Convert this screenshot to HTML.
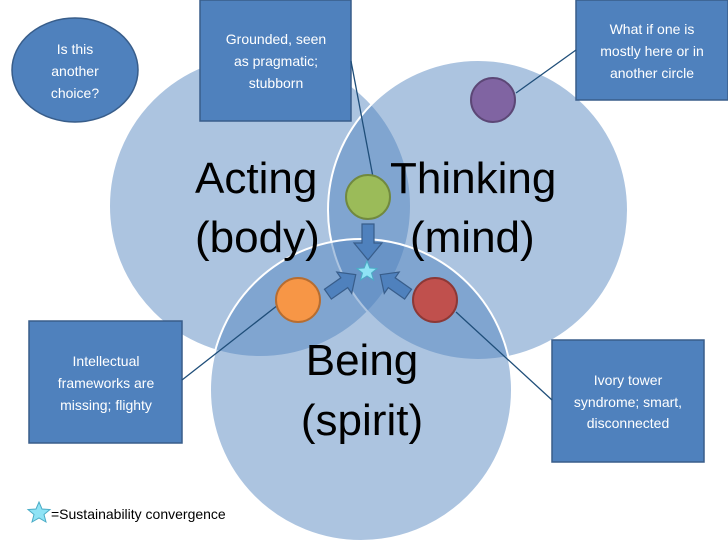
<!DOCTYPE html>
<html><head><meta charset="utf-8"><style>
html,body{margin:0;padding:0;background:#fff;}
svg{display:block;}
</style></head><body>
<svg width="728" height="546" viewBox="0 0 728 546" xmlns="http://www.w3.org/2000/svg" font-family="Liberation Sans, sans-serif">
<g fill="rgba(79,129,189,0.47)" stroke="#fff" stroke-width="2">
<circle cx="260" cy="206" r="151"/>
<circle cx="478" cy="210" r="150"/>
<circle cx="361" cy="390" r="151"/>
</g>
<g fill="#4f81bd" stroke="#385d8a" stroke-width="1.5">
<ellipse cx="75" cy="70" rx="63" ry="52"/>
<rect x="200" y="0" width="151" height="121"/>
<rect x="576" y="0" width="152" height="100"/>
<rect x="29" y="321" width="153" height="122"/>
<rect x="552" y="340" width="152" height="122"/>
</g>
<g stroke="#1f4e79" stroke-width="1.3">
<line x1="351" y1="61" x2="373" y2="177"/>
<line x1="516" y1="93" x2="576" y2="50"/>
<line x1="278" y1="305" x2="182" y2="380"/>
<line x1="456" y1="312" x2="552" y2="400"/>
</g>
<circle cx="493" cy="100" r="22" fill="#8064a2" stroke="#5c4776" stroke-width="2"/>
<circle cx="368" cy="197" r="22" fill="#9bbb59" stroke="#71893f" stroke-width="2"/>
<circle cx="298" cy="300" r="22" fill="#f79646" stroke="#b66d31" stroke-width="2"/>
<circle cx="435" cy="300" r="22" fill="#c0504d" stroke="#8c3836" stroke-width="2"/>
<g fill="#4f81bd" stroke="#385d8a" stroke-width="1.2">
<polygon points="362,224 374,224 374,243 382,243 368,260 354,243 362,243"/>
<g transform="translate(341,285) rotate(-35)"><polygon points="-16,-6 4,-6 4,-13 18,0 4,13 4,6 -16,6"/></g>
<g transform="translate(395,285) rotate(-145)"><polygon points="-16,-6 4,-6 4,-13 18,0 4,13 4,6 -16,6"/></g>
</g>
<polygon points="367,261 369.8,268 377,268.5 371.5,273 373.5,280 367,276 360.5,280 362.5,273 357,268.5 364.2,268" fill="#8fe3f5" stroke="#4bacc6" stroke-width="1"/>
<g font-size="44" fill="#000">
<text x="195" y="193">Acting</text>
<text x="195" y="252">(body)</text>
<text x="390" y="193">Thinking</text>
<text x="410" y="252">(mind)</text>
<text x="362" y="375" text-anchor="middle">Being</text>
<text x="362" y="435" text-anchor="middle">(spirit)</text>
</g>
<g font-size="14" fill="#fff" text-anchor="middle">
<text x="75" y="54">Is this</text>
<text x="75" y="76">another</text>
<text x="75" y="98">choice?</text>
<text x="276" y="44">Grounded, seen</text>
<text x="276" y="66">as pragmatic;</text>
<text x="276" y="88">stubborn</text>
<text x="652" y="34">What if one is</text>
<text x="652" y="56">mostly here or in</text>
<text x="652" y="78">another circle</text>
<text x="106" y="366">Intellectual</text>
<text x="106" y="388">frameworks are</text>
<text x="106" y="410">missing; flighty</text>
<text x="628" y="385">Ivory tower</text>
<text x="628" y="407">syndrome; smart,</text>
<text x="628" y="428">disconnected</text>
</g>
<polygon points="39,502 42,509 50,509.5 44,514.5 46,522 39,518 32,522 34,514.5 28,509.5 36,509" fill="#8fe3f5" stroke="#4bacc6" stroke-width="1"/>
<text x="51" y="519" font-size="14" fill="#000">=Sustainability convergence</text>
</svg>
</body></html>
